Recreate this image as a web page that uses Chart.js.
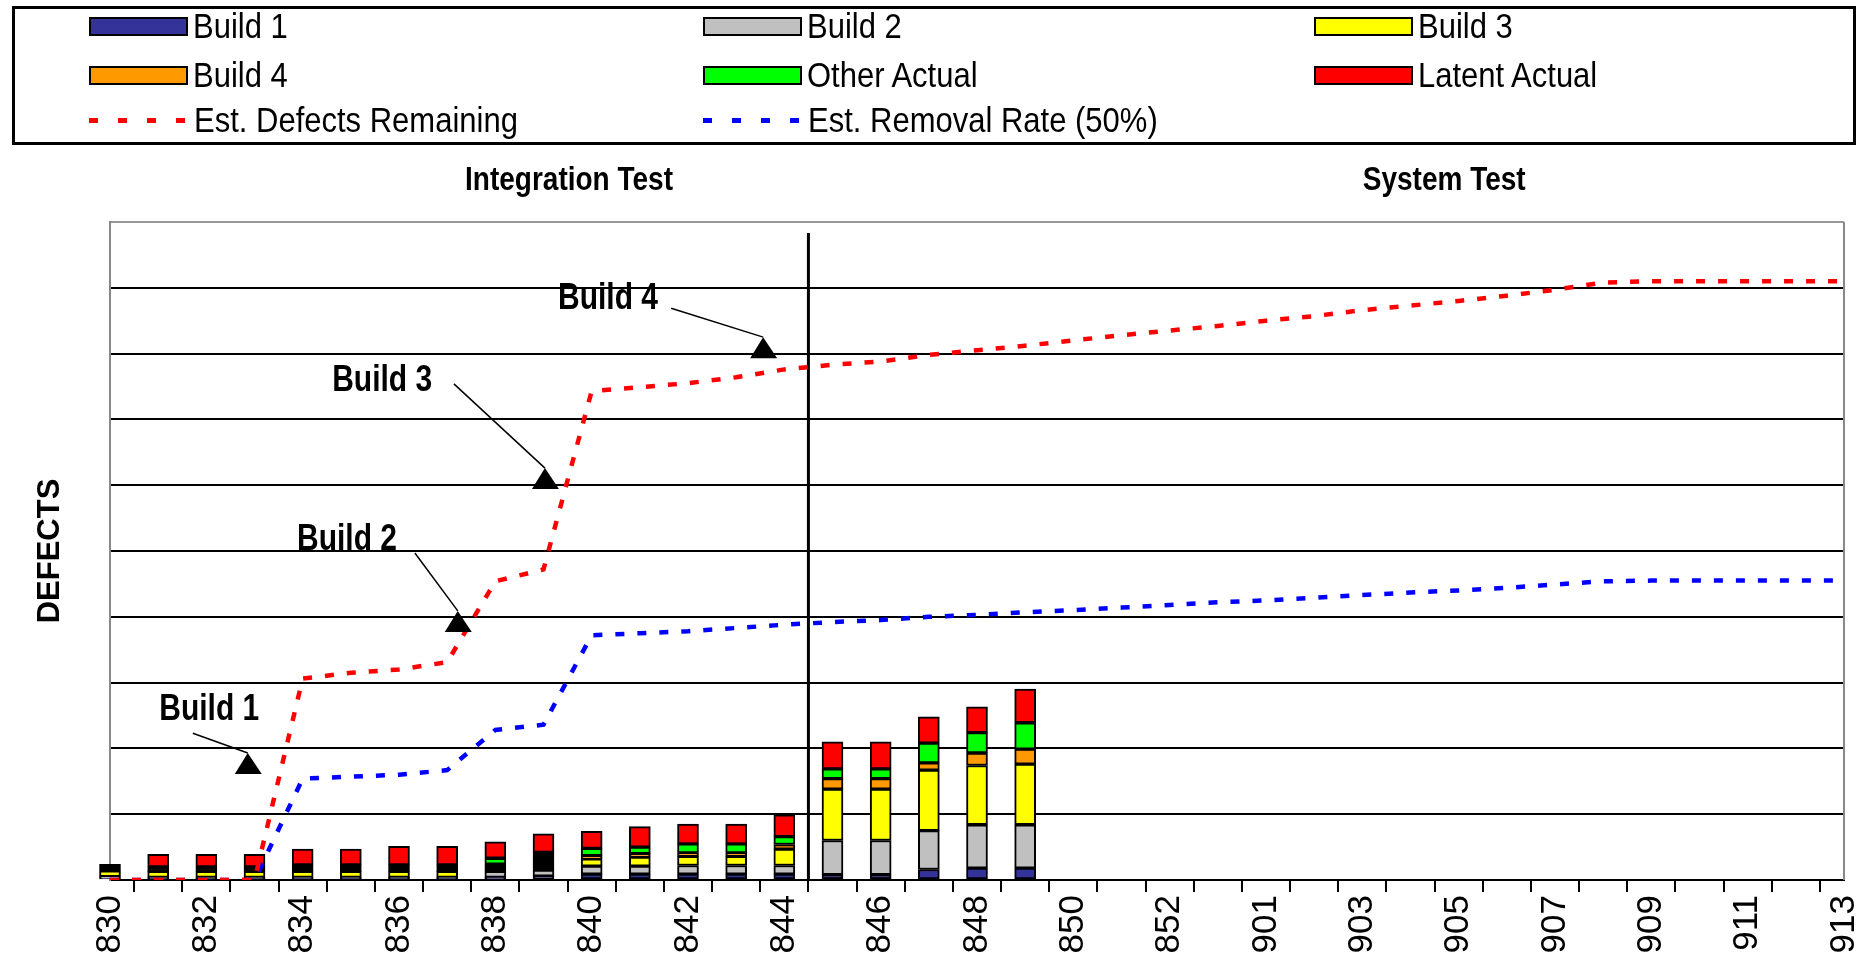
<!DOCTYPE html>
<html>
<head>
<meta charset="utf-8">
<title>Defects by build</title>
<script src="https://cdn.jsdelivr.net/npm/chart.js@4.4.1/dist/chart.umd.min.js"></script>
<style>
  html, body { margin: 0; padding: 0; background: #fff; }
  body { width: 1868px; height: 964px; position: relative; overflow: hidden;
         font-family: "Liberation Sans", Arial, sans-serif; }
  #chart { position: absolute; left: 0; top: 0; }
  #legend { position: absolute; left: 12px; top: 6px; width: 1844px; height: 139px;
            border: 3px solid #000; box-sizing: border-box; background: #fff; }
  .item { position: absolute; display: flex; align-items: center; height: 36px;
          font-size: 31px; color: #000; white-space: nowrap; }
  .item span.text { display: inline-block; transform: scaleY(1.15); }
  .swatch { width: 95px; height: 15px; border: 2px solid #000; margin-right: 5px; }
  .dash { width: 99px; height: 5px; margin-right: 6px; }
</style>
</head>
<body>
<canvas id="chart" width="1868" height="964"></canvas>
<div id="legend"></div>
<script>
// Build days on the x axis
const days = [
  "830", "831", "832", "833", "834", "835", "836", "837", "838", "839",
  "840", "841", "842", "843", "844", "845", "846", "847", "848", "849",
  "850", "851", "852", "853", "901", "902", "903", "904", "905", "906",
  "907", "908", "909", "910", "911", "912", "913",
];

// Actual defects found per day, by origin
const build1 = [0.03, 0.02, 0.02, 0.02, 0.02, 0.02, 0.02, 0.02, 0.04, 0.06,
  0.09, 0.09, 0.09, 0.09, 0.09, 0.08, 0.08, 0.16, 0.18, 0.18];
const build2 = [0.02, 0.02, 0.02, 0.02, 0.02, 0.02, 0.02, 0.02, 0.09, 0.09,
  0.12, 0.12, 0.13, 0.13, 0.13, 0.52, 0.52, 0.59, 0.66, 0.66];
const build3 = [0.09, 0.09, 0.09, 0.09, 0.09, 0.09, 0.09, 0.09, 0, 0,
  0.11, 0.14, 0.14, 0.14, 0.25, 0.78, 0.78, 0.92, 0.90, 0.92];
const build4 = [0, 0, 0, 0, 0, 0, 0, 0, 0, 0,
  0.05, 0.05, 0.05, 0.05, 0.07, 0.16, 0.16, 0.11, 0.19, 0.23];
const unassigned = [0.10, 0.07, 0.07, 0.07, 0.10, 0.10, 0.10, 0.10, 0.11, 0.27,
  0, 0, 0, 0, 0, 0, 0, 0, 0, 0];
const otherActual = [0, 0, 0, 0, 0, 0, 0, 0, 0.09, 0,
  0.11, 0.10, 0.14, 0.14, 0.12, 0.15, 0.15, 0.30, 0.31, 0.40];
const latentActual = [0, 0.19, 0.19, 0.19, 0.24, 0.24, 0.28, 0.28, 0.25, 0.28,
  0.26, 0.31, 0.30, 0.30, 0.33, 0.41, 0.41, 0.40, 0.39, 0.51];

// Estimates
const estRemaining = [0, 0, 0, 0, 3.06, 3.15, 3.2, 3.31, 4.54, 4.72,
  7.43, 7.49, 7.55, 7.64, 7.76, 7.83, 7.88, 7.98, 8.05, 8.12,
  8.2, 8.28, 8.35, 8.42, 8.5, 8.57, 8.66, 8.73, 8.8, 8.88,
  8.97, 9.08, 9.1, 9.1, 9.1, 9.1, 9.1];
const estRemoval = [0, 0, 0, 0, 1.54, 1.57, 1.6, 1.67, 2.28, 2.36,
  3.72, 3.75, 3.78, 3.83, 3.88, 3.92, 3.95, 4.0, 4.03, 4.07,
  4.1, 4.14, 4.18, 4.22, 4.25, 4.29, 4.33, 4.37, 4.4, 4.44,
  4.49, 4.54, 4.55, 4.55, 4.55, 4.55, 4.55];

const FONT = '"Liberation Sans", Arial, sans-serif';

const barSeries = [
  { label: "Build 1", data: build1, color: "#333399" },
  { label: "Build 2", data: build2, color: "#C0C0C0" },
  { label: "Build 3", data: build3, color: "#FFFF00" },
  { label: "Build 4", data: build4, color: "#FF9900" },
  { label: "Unassigned", data: unassigned, color: "#000000", hidden: true },
  { label: "Other Actual", data: otherActual, color: "#00FF00" },
  { label: "Latent Actual", data: latentActual, color: "#FF0000" },
];

const lineSeries = [
  { label: "Est. Defects Remaining", data: estRemaining, color: "#FF0000" },
  { label: "Est. Removal Rate (50%)", data: estRemoval, color: "#0000FF" },
];

// Callouts pointing at each build's jump (x = day index, y = defects)
const callouts = [
  { text: "Build 1", at: [2.06, 2.58], from: [1.72, 2.23], to: [2.86, 1.93] },
  { text: "Build 2", at: [4.92, 5.17], from: [6.33, 4.97], to: [7.22, 4.09] },
  { text: "Build 3", at: [5.65, 7.58], from: [7.14, 7.54], to: [9.03, 6.26] },
  { text: "Build 4", at: [10.34, 8.83], from: [11.65, 8.69], to: [13.56, 8.25] },
];

const phases = [
  { text: "Integration Test", at: 9.53 },
  { text: "System Test", at: 27.7 },
];

// Legend box, three columns
const legendEl = document.getElementById("legend");
const legendEntries = [
  ...barSeries.filter((s) => !s.hidden).map((s) => ({ ...s, kind: "bar" })),
  ...lineSeries.map((s) => ({ ...s, kind: "line" })),
];
const colLeft = [74, 688, 1299];
const rowTop = [-1, 48, 93];

legendEntries.forEach((entry, i) => {
  const item = document.createElement("div");
  item.className = "item";
  item.style.left = colLeft[i % 3] + "px";
  item.style.top = rowTop[Math.floor(i / 3)] + "px";

  const mark = document.createElement("span");
  if (entry.kind === "bar") {
    mark.className = "swatch";
    mark.style.background = entry.color;
  } else {
    mark.className = "dash";
    mark.style.background =
      `repeating-linear-gradient(to right, ${entry.color} 0 9px, transparent 9px 29px)`;
  }
  const text = document.createElement("span");
  text.className = "text";
  text.textContent = entry.label;
  item.appendChild(mark);
  item.appendChild(text);
  legendEl.appendChild(item);
});

// text drawn a little taller than wide, like the rest of the sheet
function tallText(ctx, str, x, y) {
  ctx.save();
  ctx.translate(x, y);
  ctx.scale(1, 1.2);
  ctx.fillText(str, 0, 0);
  ctx.restore();
}

// Divider, frame edge, callouts and phase headings
const decorations = {
  id: "decorations",
  beforeDatasetsDraw(chart) {
    const { ctx, chartArea: a, scales: { x } } = chart;
    ctx.save();
    ctx.strokeStyle = "#888";
    ctx.lineWidth = 2;
    ctx.beginPath();
    ctx.moveTo(a.right, a.top);
    ctx.lineTo(a.right, a.bottom);
    ctx.stroke();

    const px = x.getPixelForValue(14.5);
    ctx.strokeStyle = "#000";
    ctx.lineWidth = 3;
    ctx.beginPath();
    ctx.moveTo(px, a.top + 11);
    ctx.lineTo(px, a.bottom);
    ctx.stroke();
    ctx.restore();
  },
  afterDatasetsDraw(chart) {
    const { ctx, scales: { x, y } } = chart;
    ctx.save();
    ctx.fillStyle = "#000";
    ctx.strokeStyle = "#000";
    ctx.font = `bold 30px ${FONT}`;
    ctx.textAlign = "center";
    ctx.textBaseline = "middle";
    callouts.forEach((c) => {
      tallText(ctx, c.text, x.getPixelForValue(c.at[0]), y.getPixelForValue(c.at[1]));
      const x0 = x.getPixelForValue(c.from[0]);
      const y0 = y.getPixelForValue(c.from[1]);
      const x1 = x.getPixelForValue(c.to[0]);
      const y1 = y.getPixelForValue(c.to[1]);
      ctx.lineWidth = 1.5;
      ctx.beginPath();
      ctx.moveTo(x0, y0);
      ctx.lineTo(x1, y1);
      ctx.stroke();
      ctx.beginPath();
      ctx.moveTo(x1, y1);
      ctx.lineTo(x1 + 14, y1 + 21);
      ctx.lineTo(x1 - 13, y1 + 21);
      ctx.closePath();
      ctx.fill();
    });
    ctx.restore();
  },
  afterDraw(chart) {
    const { ctx, chartArea: a, scales: { x } } = chart;
    ctx.save();
    ctx.fillStyle = "#000";
    ctx.font = `bold 28px ${FONT}`;
    ctx.textAlign = "center";
    ctx.textBaseline = "middle";
    phases.forEach((p) => tallText(ctx, p.text, x.getPixelForValue(p.at), a.top - 41));
    ctx.restore();
  },
};

new Chart(document.getElementById("chart"), {
  type: "bar",
  data: {
    labels: days,
    datasets: [
      ...barSeries.map((s) => ({
        label: s.label,
        data: s.data,
        backgroundColor: s.color,
        borderColor: "#000",
        borderWidth: 2,
        borderSkipped: false,
        barThickness: 21,
        stack: "actual",
        order: 2,
        clip: false,
      })),
      ...lineSeries.map((s, i) => ({
        type: "line",
        label: s.label,
        data: s.data,
        borderColor: s.color,
        borderWidth: 4.5,
        borderDash: [9, 13],
        pointRadius: 0,
        tension: 0,
        fill: false,
        stack: "est" + i,
        order: 1,
      })),
    ],
  },
  options: {
    responsive: false,
    animation: false,
    events: [],
    layout: { padding: { top: 222, right: 24, left: 0, bottom: 0 } },
    plugins: {
      legend: { display: false },
      tooltip: { enabled: false },
    },
    scales: {
      x: {
        offset: false,
        grid: {
          drawOnChartArea: false,
          drawTicks: true,
          tickLength: 12,
          color: "#000",
          lineWidth: 2,
        },
        border: { color: "#000", width: 2 },
        ticks: {
          autoSkip: false,
          minRotation: 90,
          maxRotation: 90,
          padding: 3,
          color: "#000",
          font: { family: FONT, size: 35 },
          callback: (value, i) => (i % 2 === 0 ? days[i] : ""),
        },
        afterFit: (scale) => {
          scale.height = 84;
          scale.paddingLeft = 0;
          scale.paddingRight = 0;
        },
      },
      y: {
        stacked: true,
        min: 0,
        max: 10,
        ticks: { display: false, stepSize: 1 },
        grid: {
          drawTicks: false,
          lineWidth: 2,
          color: (ctx) => (ctx.tick && ctx.tick.value === 10 ? "#999" : "#000"),
        },
        border: { color: "#888", width: 2 },
        title: {
          display: true,
          text: "DEFECTS",
          color: "#000",
          font: { family: FONT, size: 31, weight: "bold" },
          padding: { top: 32, bottom: 0 },
        },
        afterFit: (scale) => {
          scale.width = 110;
        },
      },
    },
  },
  plugins: [decorations],
});
</script>
</body>
</html>
